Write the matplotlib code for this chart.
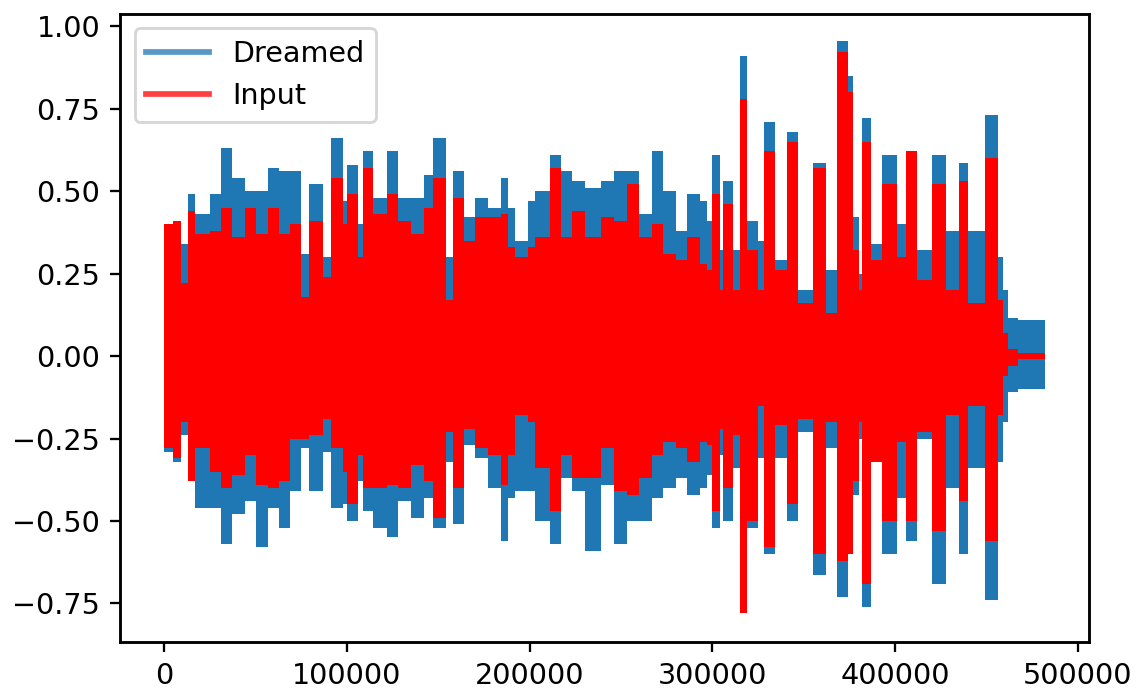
import numpy as np
import matplotlib
matplotlib.use("Agg")
import matplotlib.pyplot as plt
from matplotlib.lines import Line2D

# Envelope of the two waveforms (sample index of each block start)
seg_start = [0, 5000, 9000, 13000, 17000, 25000, 31000, 37000, 44000, 50000, 57000, 63000,
             69000, 75000, 79000, 87000, 91000, 98000, 100000, 106000, 109000, 114000, 122000,
             128000, 135000, 142000, 147000, 154000, 158000, 164000, 170000, 177000, 184000,
             188000, 192000, 199000, 203000, 211000, 217000, 223000, 230000, 239000, 246000,
             253000, 260000, 267000, 273000, 280000, 286000, 293000, 297000, 300000, 304000,
             306000, 311000, 315000, 319000, 325000, 328000, 334000, 341000, 347000, 355000,
             362000, 368000, 374000, 377000, 380000, 382000, 387000, 393000, 401000, 406000,
             412000, 420000, 428000, 435000, 440000, 449000, 456000, 459000, 462000, 467000]
n_samples = 482000

dreamed_hi = [0.40, 0.41, 0.34, 0.49, 0.43, 0.49, 0.63, 0.54, 0.50, 0.50, 0.57, 0.56,
              0.56, 0.31, 0.52, 0.30, 0.66, 0.47, 0.58, 0.40, 0.62, 0.48, 0.62,
              0.48, 0.48, 0.55, 0.66, 0.30, 0.56, 0.42, 0.48, 0.45, 0.54,
              0.45, 0.35, 0.47, 0.50, 0.61, 0.56, 0.53, 0.51, 0.53, 0.56,
              0.56, 0.43, 0.62, 0.50, 0.38, 0.49, 0.47, 0.41, 0.61, 0.32,
              0.53, 0.32, 0.91, 0.41, 0.35, 0.71, 0.29, 0.68, 0.20, 0.585,
              0.26, 0.955, 0.85, 0.42, 0.25, 0.72, 0.34, 0.61, 0.40, 0.60,
              0.32, 0.61, 0.38, 0.585, 0.38, 0.73, 0.30, 0.20, 0.115, 0.11]
dreamed_lo = [-0.29, -0.32, -0.24, -0.38, -0.46, -0.46, -0.57, -0.48, -0.44, -0.58, -0.46, -0.52,
              -0.41, -0.28, -0.41, -0.29, -0.46, -0.45, -0.50, -0.38, -0.47, -0.52, -0.55,
              -0.44, -0.49, -0.43, -0.52, -0.32, -0.51, -0.27, -0.31, -0.40, -0.56,
              -0.43, -0.41, -0.41, -0.50, -0.57, -0.37, -0.41, -0.59, -0.39, -0.57,
              -0.50, -0.50, -0.43, -0.40, -0.37, -0.42, -0.40, -0.36, -0.52, -0.30,
              -0.50, -0.34, -0.78, -0.52, -0.31, -0.60, -0.31, -0.50, -0.23, -0.665,
              -0.28, -0.73, -0.60, -0.42, -0.25, -0.76, -0.32, -0.60, -0.43, -0.56,
              -0.25, -0.69, -0.40, -0.60, -0.34, -0.74, -0.32, -0.20, -0.11, -0.10]
input_hi = [0.40, 0.41, 0.22, 0.44, 0.37, 0.38, 0.45, 0.36, 0.45, 0.37, 0.45, 0.37,
            0.40, 0.18, 0.41, 0.24, 0.54, 0.40, 0.49, 0.30, 0.57, 0.43, 0.49,
            0.41, 0.37, 0.45, 0.54, 0.17, 0.48, 0.35, 0.42, 0.42, 0.43,
            0.33, 0.30, 0.33, 0.36, 0.57, 0.36, 0.44, 0.36, 0.42, 0.41,
            0.52, 0.36, 0.40, 0.31, 0.29, 0.36, 0.28, 0.26, 0.49, 0.20,
            0.46, 0.20, 0.78, 0.32, 0.20, 0.62, 0.26, 0.65, 0.16, 0.57,
            0.13, 0.92, 0.80, 0.32, 0.20, 0.65, 0.29, 0.52, 0.30, 0.62,
            0.23, 0.52, 0.20, 0.53, 0.16, 0.60, 0.17, 0.07, 0.02, 0.01]
input_lo = [-0.28, -0.31, -0.20, -0.38, -0.28, -0.35, -0.40, -0.36, -0.30, -0.39, -0.40, -0.38,
            -0.25, -0.25, -0.24, -0.19, -0.28, -0.35, -0.45, -0.30, -0.40, -0.40, -0.39,
            -0.40, -0.33, -0.38, -0.49, -0.23, -0.40, -0.22, -0.28, -0.30, -0.39,
            -0.30, -0.18, -0.20, -0.34, -0.47, -0.30, -0.37, -0.37, -0.28, -0.41,
            -0.42, -0.37, -0.30, -0.26, -0.28, -0.32, -0.26, -0.27, -0.47, -0.22,
            -0.40, -0.24, -0.78, -0.50, -0.15, -0.58, -0.21, -0.45, -0.19, -0.60,
            -0.20, -0.62, -0.60, -0.38, -0.20, -0.69, -0.32, -0.50, -0.26, -0.50,
            -0.23, -0.53, -0.18, -0.44, -0.15, -0.56, -0.18, -0.06, -0.03, -0.01]

x = np.array(seg_start + [n_samples])
def ext(v):
    return np.array(v + [v[-1]])

fig = plt.figure(figsize=(1140 / 206, 694 / 206), dpi=206)
ax = fig.add_axes([0.1055, 0.0745, 0.9553 - 0.1055, 0.9798 - 0.0745])

ax.fill_between(x, ext(dreamed_lo), ext(dreamed_hi), step='post', color='#1f77b4', lw=0)
ax.fill_between(x, ext(input_lo), ext(input_hi), step='post', color='red', lw=0)

ax.set_xlim(-24100, 506100)
ax.set_ylim(-0.8676, 1.0364)
ax.set_xticks([0, 100000, 200000, 300000, 400000, 500000])
ax.set_yticks([-0.75, -0.5, -0.25, 0.0, 0.25, 0.5, 0.75, 1.0])
ax.set_yticklabels(['−0.75', '−0.50', '−0.25', '0.00', '0.25', '0.50', '0.75', '1.00'])
for s in ax.spines.values():
    s.set_linewidth(1.0)

handles = [Line2D([], [], color='#1f77b4', alpha=0.75, lw=2, label='Dreamed'),
           Line2D([], [], color='red', alpha=0.75, lw=2, label='Input')]
ax.legend(handles=handles, loc='upper left', fontsize=10, handlelength=2.2)

fig.savefig('out.png', dpi=206)
